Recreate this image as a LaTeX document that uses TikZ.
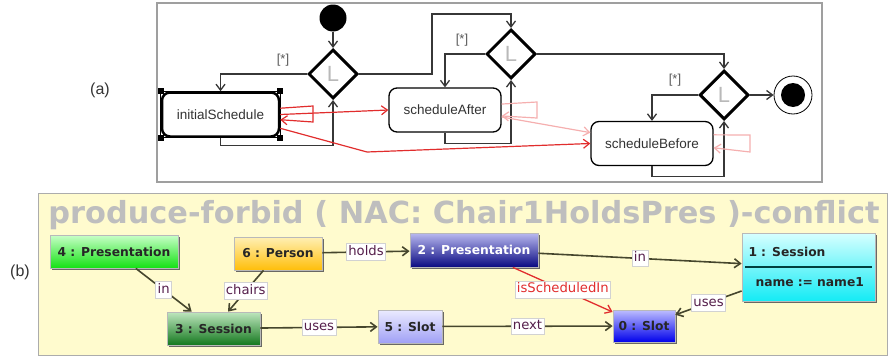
\documentclass[tikz,border=0pt]{standalone}
\usepackage{fontspec}
\setmainfont{Liberation Sans}
\newfontfamily\dejavu{DejaVu Sans}
\usepackage{tikz}
\usetikzlibrary{shapes.geometric}
\usetikzlibrary{arrows.meta}
\usetikzlibrary{shadows}
\definecolor{panel}{RGB}{255,251,206}
\definecolor{titlegray}{RGB}{190,190,190}
\definecolor{edgeolive}{RGB}{70,70,45}
\definecolor{labeltext}{RGB}{85,30,75}
\definecolor{conflict}{RGB}{225,45,45}
\definecolor{weakconflict}{RGB}{245,175,175}
\definecolor{flowgray}{RGB}{55,55,55}

\begin{document}
\begin{tikzpicture}[x=1pt,y=-1pt,>={Straight Barb[length=6pt,width=9pt]}]
	\tikzstyle{flow}=[draw=flowgray, line width=1.3pt, ->]
	\tikzstyle{activity}=[rectangle, rounded corners=8pt, draw=black, line width=1.3pt, fill=white, minimum height=44pt, inner sep=0pt, text=black!80, font=\fontsize{13.5}{16}\selectfont]
	\tikzstyle{decision}=[diamond, draw=black, line width=3pt, fill=white, minimum width=49pt, minimum height=49pt, inner sep=0pt, text=gray!55, font=\fontsize{22}{26}\selectfont]
	\tikzstyle{guard}=[text=gray!70!black, font=\fontsize{13}{15}\selectfont]
	\tikzstyle{dep}=[draw=conflict, line width=1.2pt, ->]
	\tikzstyle{weak dep}=[draw=weakconflict, line width=1.2pt, ->]
	\tikzstyle{object}=[rectangle, draw=gray!55, line width=0.8pt, inner sep=0pt, minimum height=33pt, text=black!85, font=\dejavu\bfseries\fontsize{12.3}{14}\selectfont, drop shadow={shadow xshift=1.5pt, shadow yshift=-1.5pt, fill=black!65, opacity=0.9}]
	\tikzstyle{link}=[draw=edgeolive, line width=1.6pt, ->]
	\tikzstyle{role}=[fill=white, draw=gray!35, line width=0.6pt, inner sep=2pt, text height=9.5pt, text depth=3pt, text=labeltext, font=\dejavu\fontsize{13.2}{15}\selectfont]
	\tikzstyle{annot}=[font=\fontsize{16}{19}\selectfont, text=black!80]
	
	\useasboundingbox (0,0) rectangle (894,356);
	
	% Draw the frame of part (a)
	\draw[draw=gray!75, line width=1.4pt] (157,3) rectangle (822,182);
	\node[annot] (a-tag) at (100,90) {(a)};
	
	% Draw the start and end nodes
	\node[circle, fill=black, minimum size=27pt, inner sep=0pt] (init) at (333,18) {};
	\node[circle, draw=black, line width=0.8pt, fill=white, minimum size=38pt, inner sep=0pt,
		path picture={\fill[black] (path picture bounding box.center) circle (12pt);}] (final) at (793,95) {};
	
	% Draw the decision nodes
	\foreach \name / \x / \y in {1/333/74, 2/511/54, 3/724/95}
	\node[decision] (D-\name) at (\x,\y) {L};
	
	% Draw the activities
	\node[activity, line width=2.5pt, minimum width=117pt] (A-1) at (220.5,114.5) {initialSchedule};
	\foreach \name / \x / \y / \w / \txt in {2/445/110/112/scheduleAfter, 3/652/143.5/122/scheduleBefore}
	\node[activity, minimum width=\w pt] (A-\name) at (\x,\y) {\txt};
	
	% Selection handles
	\draw[line width=0.6pt] (A-1.north west) rectangle (A-1.south east);
	\foreach \corner in {north west, north east, south west, south east}
	\fill[black] (A-1.\corner) +(-3,-3) rectangle +(3,3);
	
	% Connect the control flow
	\coordinate (c1) at (432,14);
	\draw[flow] (init) -- (D-1.north);
	\draw[flow] (D-1.west) -| (A-1.north);
	\draw[flow] (A-1.south) -- ++(0,8) -| (D-1.south);
	\draw[flow] (D-1.east) -| (c1) -| (D-2.north);
	\draw[flow] (D-2.west) -| (A-2.north);
	\draw[flow] (A-2.south) -- ++(0,11) -| (D-2.south);
	\draw[flow] (D-2.east) -| (D-3.north);
	\draw[flow] (D-3.west) -| (A-3.north);
	\draw[flow] (A-3.south) -- ++(0,10) -| (D-3.south);
	\draw[flow] (D-3.east) -- (final);
	
	% Annotate the guards
	\foreach \name / \x / \y in {1/283/60, 2/462/40, 3/675/80}
	\node[guard] (g-\name) at (\x,\y) {[*]};
	
	% Connect the conflicts and dependencies
	\coordinate (k1) at (367,152);
	\coordinate (L1-a) at (313,106);
	\coordinate (L1-b) at (313,122);
	\coordinate (L2-a) at (537,102);
	\coordinate (L2-b) at (537,118);
	\coordinate (L3-a) at (750,135);
	\coordinate (L3-b) at (750,152);
	\draw[weak dep] (A-2.6) -- (L2-a) -- (L2-b) -- (A-2.-6);
	\draw[weak dep] (A-2.-7) -- (A-3.170);
	\draw[weak dep] (A-3.8) -- (L3-a) -- (L3-b) -- (A-3.-4);
	\draw[dep] (A-1.6) -- (L1-a) -- (L1-b) -- (A-1.-5);
	\draw[dep] (A-1.east) -- (A-2.west);
	\draw[dep] (A-1.-13) -- (k1) -- (A-3.west);
	
	% Draw the panel of part (b)
	\draw[draw=gray!65, fill=panel, line width=1pt] (38,193) rectangle (887,355);
	\node[annot] (b-tag) at (20,272) {(b)};
	\node[anchor=base, text=titlegray, font=\dejavu\bfseries\fontsize{30.4}{36}\selectfont] (title) at (464,223) {produce-forbid ( NAC: Chair1HoldsPres )-conflict};
	
	% Draw the objects
	\node[object, minimum width=128pt, top color={rgb,255:red,200;green,255;blue,200}, bottom color={rgb,255:red,20;green,225;blue,20}] (N-4) at (114,251.5) {4 : Presentation};
	\node[object, minimum width=88pt, top color={rgb,255:red,255;green,240;blue,180}, bottom color={rgb,255:red,255;green,190;blue,10}] (N-6) at (278,253.5) {6 : Person};
	\node[object, minimum width=128pt, minimum height=34pt, text=white, top color={rgb,255:red,185;green,185;blue,240}, bottom color={rgb,255:red,10;green,10;blue,130}] (N-2) at (474,250) {2 : Presentation};
	\node[object, minimum width=133pt, minimum height=68pt, text width=120pt, align=left, top color={rgb,255:red,215;green,255;blue,255}, bottom color={rgb,255:red,20;green,235;blue,245},
		path picture={\draw[line width=1.8pt, draw=teal!50!black] ([xshift=3pt]path picture bounding box.west) -- ([xshift=-3pt]path picture bounding box.east);}] (N-1) at (808.5,267) {1 : Session\\[16pt]\hspace*{7pt}name := name1};
	\node[object, minimum width=93pt, top color={rgb,255:red,190;green,230;blue,190}, bottom color={rgb,255:red,20;green,120;blue,30}] (N-3) at (213.5,328.5) {3 : Session};
	\node[object, minimum width=64pt, top color={rgb,255:red,235;green,235;blue,255}, bottom color={rgb,255:red,160;green,160;blue,245}] (N-5) at (410,326.5) {5 : Slot};
	\node[object, minimum width=62pt, minimum height=32pt, top color={rgb,255:red,190;green,190;blue,255}, bottom color={rgb,255:red,0;green,0;blue,235}] (N-0) at (644,326) {0 : Slot};
	
	% Connect the objects
	\draw[link] (N-4) -- node[role] {in} (N-3);
	\draw[link] (N-6) -- node[role] {chairs} (N-3);
	\draw[link] (N-6) -- node[role] {holds} (N-2);
	\draw[link] (N-2) -- node[role] {in} (N-1);
	\draw[link, draw=conflict, line width=1.3pt] (N-2) -- node[role, text=conflict] {isScheduledIn} (N-0);
	\draw[link] (N-1) -- node[role] {uses} (N-0);
	\draw[link] (N-3) -- node[role] {uses} (N-5);
	\draw[link] (N-5) -- node[role] {next} (N-0);
	
\end{tikzpicture}
\end{document}
